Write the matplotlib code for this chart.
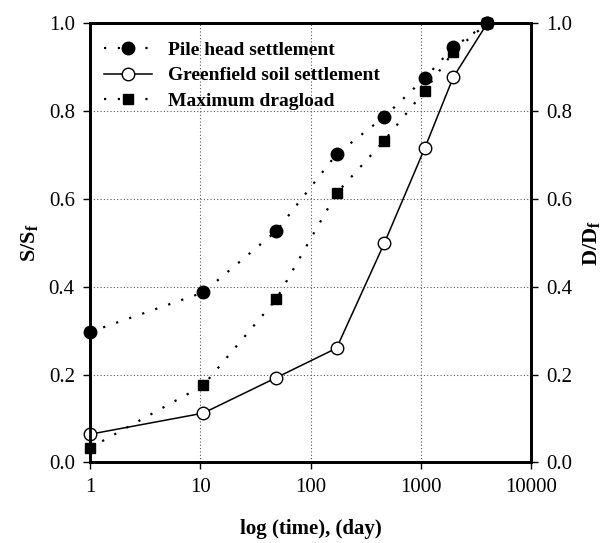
import matplotlib
matplotlib.use("Agg")
import matplotlib.pyplot as plt
from matplotlib.ticker import FixedLocator, NullLocator, FixedFormatter

plt.rcParams['font.family'] = ['Liberation Serif', 'DejaVu Serif']
plt.rcParams['mathtext.fontset'] = 'custom'
plt.rcParams['mathtext.rm'] = 'Liberation Serif'
plt.rcParams['mathtext.bf'] = 'Liberation Serif:bold'

time_days = [1, 10.6, 49, 172, 466, 1083, 1968, 4005]
pile_head = [0.297, 0.387, 0.527, 0.702, 0.787, 0.875, 0.945, 1.0]
greenfield = [0.064, 0.112, 0.193, 0.260, 0.499, 0.715, 0.877, 1.0]
dragload = [0.033, 0.175, 0.372, 0.613, 0.733, 0.846, 0.935, 1.0]

x_ticks = [1, 10, 100, 1000, 10000]
x_tick_labels = ['1', '10', '100', '1000', '10000']
y_ticks = [0.0, 0.2, 0.4, 0.6, 0.8, 1.0]
y_tick_labels = ['0.0', '0.2', '0.4', '0.6', '0.8', '1.0']

fig = plt.figure(figsize=(6.09, 5.43), dpi=100)
ax = fig.add_axes([0.148, 0.1486, 0.724, 0.8084])

dot = (0, (1, 5.2))
ax.plot(time_days, greenfield, linestyle='-', color='black', linewidth=1.1,
        marker='o', markersize=9, markerfacecolor='white', markeredgecolor='black',
        markeredgewidth=1.0, label='Greenfield soil settlement', zorder=4, clip_on=False)
ax.plot(time_days, dragload, linestyle=dot, color='black', linewidth=1.6,
        marker='s', markersize=7.5, markerfacecolor='black', markeredgecolor='black',
        label='Maximum dragload', zorder=5, clip_on=False)
ax.plot(time_days, pile_head, linestyle=dot, color='black', linewidth=1.6,
        marker='o', markersize=9, markerfacecolor='black', markeredgecolor='black',
        label='Pile head settlement', zorder=6, clip_on=False)

ax.set_xscale('log')
ax.set_xlim(1, 10000)
ax.set_ylim(0, 1.0)
ax.xaxis.set_major_locator(FixedLocator(x_ticks))
ax.xaxis.set_major_formatter(FixedFormatter(x_tick_labels))
ax.xaxis.set_minor_locator(NullLocator())
ax.set_yticks(y_ticks)
ax.set_yticklabels(y_tick_labels)

ax.grid(True, which='major', linestyle=(0, (1, 2)), color='#555555', linewidth=0.8)
ax.tick_params(axis='both', direction='out', length=5, width=1, labelsize=15, pad=6)

for s in ax.spines.values():
    s.set_linewidth(2)

ax.set_xlabel('log (time), (day)', fontsize=15, fontweight='bold', labelpad=16)
ax.set_ylabel(r'$\mathbf{S/S_f}$', fontsize=16, labelpad=6)

ax2 = ax.twinx()
ax2.set_ylim(0, 1.0)
ax2.set_yticks(y_ticks)
ax2.set_yticklabels(y_tick_labels)
ax2.tick_params(axis='y', direction='out', length=5, width=1, labelsize=15, pad=6)
for s in ax2.spines.values():
    s.set_linewidth(2)
ax2.set_ylabel(r'$\mathbf{D/D_f}$', fontsize=16, labelpad=6)

handles, labels = ax.get_legend_handles_labels()
order = [2, 0, 1]
leg = ax.legend([handles[i] for i in order], [labels[i] for i in order],
                loc='upper left', frameon=False, prop={'weight': 'bold', 'size': 14},
                handlelength=2.5, borderaxespad=0.3, labelspacing=0.4,
                bbox_to_anchor=(0.0, 0.99))

fig.savefig('out.png', dpi=100)
